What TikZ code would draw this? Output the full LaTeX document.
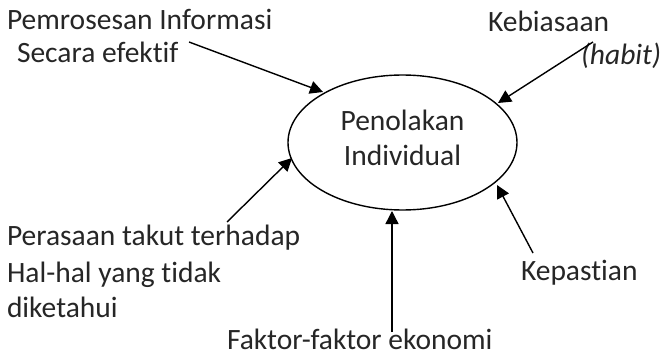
\documentclass[tikz,border=0pt]{standalone}
\usepackage{fontspec}
\setmainfont{Carlito}[Ligatures=NoCommon,RawFeature=-liga]
\usetikzlibrary{arrows.meta,shapes.geometric}
\definecolor{txt}{RGB}{38,38,38}
\begin{document}
\begin{tikzpicture}[x=1pt,y=-1pt,
  lbl/.style={inner sep=0pt,outer sep=0pt,text=txt,font=\fontsize{29.5}{35}\selectfont},
  arr/.style={line width=1.4pt,-{Triangle[length=13pt,width=13pt]}},
  ell/.style={ellipse,draw,line width=1.4pt,minimum width=229pt,minimum height=135pt,inner sep=0pt}]
\useasboundingbox (0,0) rectangle (665,356);
\node[ell] (E) at (402.5,142.5) {};
\node[lbl,anchor=base] (pen) at (402.5,130) {Penolakan};
\node[lbl,anchor=base] (ind) at (402.5,165) {Individual};
\node[lbl,anchor=base west] (t1a) at (7,30) {Pemrosesan Informasi};
\node[lbl,anchor=base west] (t1b) at (17,63) {Secara efektif};
\node[lbl,anchor=base west] (t2a) at (488,31) {Kebiasaan};
\node[lbl,anchor=base west] (t2b) at (581,64) {\itshape(habit)};
\node[lbl,anchor=base west] (t3a) at (7,245) {Perasaan takut terhadap};
\node[lbl,anchor=base west] (t3b) at (7,282) {Hal-hal yang tidak};
\node[lbl,anchor=base west] (t3c) at (7,317) {diketahui};
\node[lbl,anchor=base west] (t4) at (521,280) {Kepastian};
\node[lbl,anchor=base west] (t5) at (227,349) {Faktor-faktor ekonomi};
\coordinate (s1) at (189,42);  \coordinate (e1) at (323,92);
\coordinate (s2) at (593,42);  \coordinate (e2) at (498,103);
\coordinate (s3) at (227,222); \coordinate (e3) at (292,158);
\coordinate (s4) at (392,332); \coordinate (e4) at (392,211);
\coordinate (s5) at (533,253); \coordinate (e5) at (497,185);
\draw[arr] (s1) -- (e1);
\draw[arr] (s2) -- (e2);
\draw[arr] (s3) -- (e3);
\draw[arr] (s4) -- (e4);
\draw[arr] (s5) -- (e5);
\end{tikzpicture}
\end{document}
